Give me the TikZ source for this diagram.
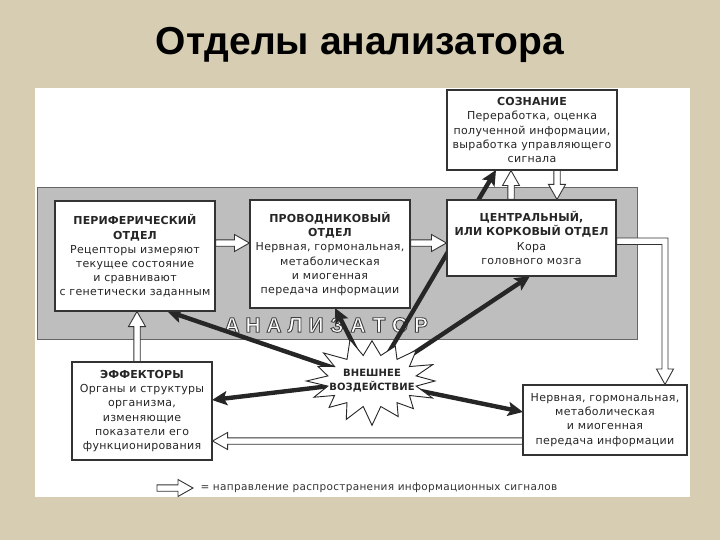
\documentclass[tikz,border=0pt]{standalone}
\usepackage{fontspec}
\setmainfont{DejaVu Sans}[LetterSpace=3, BoldFeatures={LetterSpace=1}]
\newfontfamily\titlefont{Liberation Sans}
\newfontfamily\anafont{Liberation Sans}
\usetikzlibrary{calc,arrows.meta}
\definecolor{beige}{RGB}{214,205,178}
\definecolor{anagray}{RGB}{190,190,190}
\newcommand\boxfont{\fontsize{11}{14.2}\selectfont}
\newcommand\outlinetext[1]{\textcolor{white}{\special{pdf:literal direct 2 Tr 0.9 w 0.25 G}#1\special{pdf:literal direct 0 Tr}}}
\newcommand\openarr[2]{%
  \path (#1) coordinate (oaA) (#2) coordinate (oaB);
  \coordinate (oaH) at ($(oaB)!15pt!(oaA)$);
  \filldraw[oarrow] ($(oaA)!3.2pt!90:(oaB)$) -- ($(oaH)!3.2pt!-90:(oaA)$) -- ($(oaH)!8.5pt!-90:(oaA)$) -- (oaB)
    -- ($(oaH)!8.5pt!90:(oaA)$) -- ($(oaH)!3.2pt!90:(oaA)$) -- ($(oaA)!3.2pt!-90:(oaB)$) -- cycle;
}
\tikzset{
  box/.style={draw=black!80, line width=1.1pt, fill=white, align=center, inner sep=0pt, font=\boxfont, text=black!85},
  oarrow/.style={draw=black!80, line width=0.9pt, fill=white, line join=miter},
  tarrow/.style={draw=black!85, line width=4.4pt, -{Stealth[length=15pt,width=14pt,inset=3pt]}},
}
\begin{document}
\begin{tikzpicture}[x=1pt,y=-1pt]
\useasboundingbox (0,0) rectangle (720,540);
\fill[beige] (0,0) rectangle (720,540);
\node[font=\titlefont\bfseries\fontsize{39}{42}\selectfont] (title) at (360,45) {Отделы анализатора};
% white panel
\fill[white] (35,88) rectangle (690,497);
% analyser area
\filldraw[fill=anagray, draw=black!60, line width=0.8pt] (37,187) rectangle (637,339);
\foreach \l [count=\i] in {А,Н,А,Л,И,З,А,Т,О,Р}{
  \node[font=\anafont\bfseries\fontsize{21}{24}\selectfont] (L\i) at ({232+(\i-1)*21},325) {\outlinetext{\l}};
}
% thick arrows from the external influence
\coordinate (bc) at (372,381);
\draw[tarrow] (bc) -- (167,311);
\draw[tarrow] (bc) -- (335,308);
\draw[tarrow] (bc) -- (496,170);
\draw[tarrow] (bc) -- (530,276);
\draw[tarrow] (bc) -- (212,400);
\draw[tarrow] (bc) -- (523,412);
% starburst
\filldraw[fill=white, draw=black!85, line width=0.9pt, line join=miter]
  plot[samples at={0,...,31}, variable=\k] ({372+(mod(\k,2)==0 ? 63*(1+0.09*sin(\k*77)) : 45)*cos(\k*11.25)}, {381+(mod(\k,2)==0 ? 41*(1+0.09*sin(\k*53)) : 26)*sin(\k*11.25)}) -- cycle;
\node[align=center, font=\bfseries\fontsize{10}{14}\selectfont, text=black!85] (burst) at (bc) {ВНЕШНЕЕ\\ВОЗДЕЙСТВИЕ};
% boxes
\node[box, minimum width=160pt, minimum height=110pt] (per) at (135,256)
  {\textbf{ПЕРИФЕРИЧЕСКИЙ}\\\textbf{ОТДЕЛ}\\Рецепторы измеряют\\текущее состояние\\и сравнивают\\с генетически заданным};
\node[box, minimum width=160pt, minimum height=108pt] (con) at (330,254)
  {\textbf{ПРОВОДНИКОВЫЙ}\\\textbf{ОТДЕЛ}\\Нервная, гормональная,\\метаболическая\\и миогенная\\передача информации};
\node[box, minimum width=169pt, minimum height=76pt] (cen) at (531.5,238)
  {\textbf{ЦЕНТРАЛЬНЫЙ,}\\\textbf{ИЛИ КОРКОВЫЙ ОТДЕЛ}\\Кора\\головного мозга};
\node[box, minimum width=170pt, minimum height=80pt] (soz) at (532,130)
  {\textbf{СОЗНАНИЕ}\\Переработка, оценка\\полученной информации,\\выработка управляющего\\сигнала};
\node[box, minimum width=140pt, minimum height=98pt] (eff) at (142,411)
  {\textbf{ЭФФЕКТОРЫ}\\Органы и структуры\\организма,\\изменяющие\\показатели его\\функционирования};
\node[box, minimum width=164pt, minimum height=70pt] (rgt) at (605,420)
  {Нервная, гормональная,\\метаболическая\\и миогенная\\передача информации};
% open arrows (information signals)
\openarr{per.east |- 0,243}{con.west |- 0,243}
\openarr{con.east |- 0,243}{cen.west |- 0,243}
\openarr{cen.north -| 511,0}{soz.south -| 511,0}
\openarr{soz.south -| 557,0}{cen.north -| 557,0}
\openarr{eff.north -| 137,0}{per.south -| 137,0}
\openarr{rgt.west |- 0,441}{eff.east |- 0,441}
\filldraw[oarrow] (cen.east |- 0,238) -- (668,238) -- (668,369) -- (673.5,369) -- (665,0 |- rgt.north)
  -- (656.5,369) -- (662,369) -- (662,244.5) -- (cen.east |- 0,244.5) -- cycle;
% legend
\coordinate (lgA) at (157,488);
\coordinate (lgB) at (193,488);
\openarr{lgA}{lgB}
\node[anchor=west, font=\fontsize{10.5}{13}\selectfont, text=black!80] (legend) at (197,488)
  {= направление распространения информационных сигналов};
\end{tikzpicture}
\end{document}
